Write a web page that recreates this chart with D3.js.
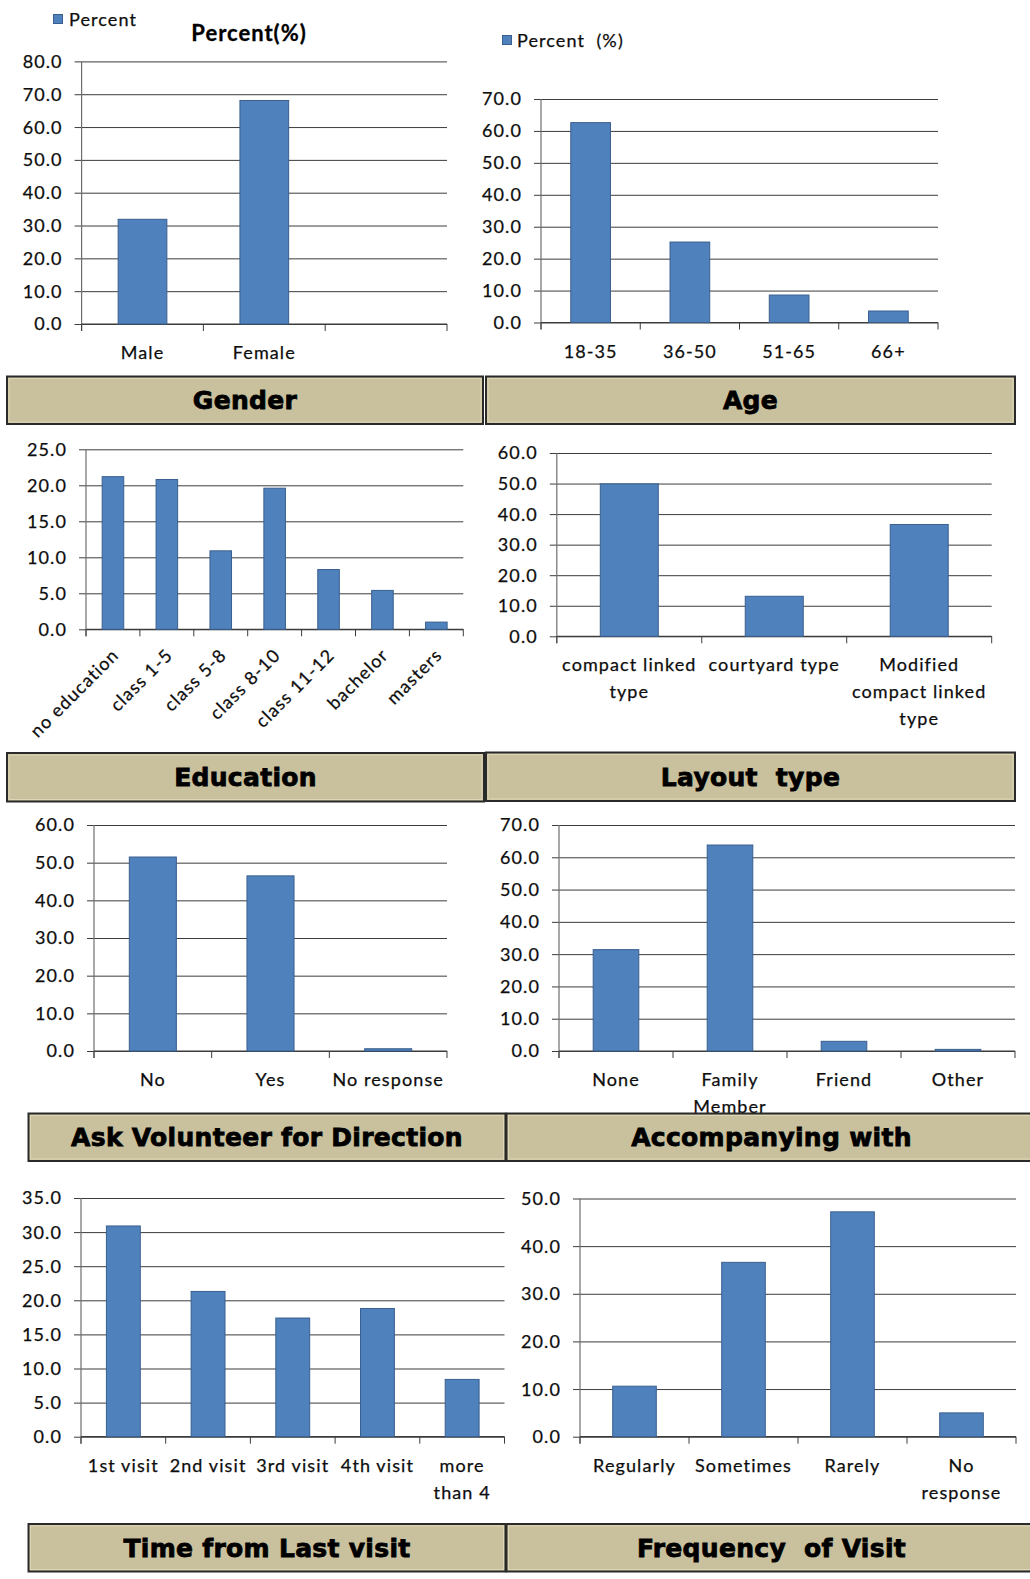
<!DOCTYPE html>
<html>
<head>
<meta charset="utf-8">
<script src="https://cdn.jsdelivr.net/npm/d3@7"></script>
<style>
  html, body { margin: 0; padding: 0; background: #fff; }
  svg { display: block; }
  .tick-label, .cat-label, .legend-text { font-family: Lato, "Open Sans", sans-serif; font-size: 18px; letter-spacing: 1.1px; fill: #0d0d0d; stroke: #0d0d0d; stroke-width: 0.25px; }
  .chart-title { font-family: Lato, "Open Sans", sans-serif; font-size: 22px; font-weight: bold; letter-spacing: 1px; fill: #000; stroke: #000; stroke-width: 0.3px; }
  .banner-text { font-family: "DejaVu Sans", sans-serif; font-size: 25px; font-weight: bold; letter-spacing: 0.3px; fill: #000; stroke: #000; stroke-width: 0.8px; }
</style>
</head>
<body>
<svg id="chart" width="1030" height="1579"></svg>
<script>
// ---- survey results (percent of respondents) ----
const genderCats = ["Male", "Female", ""];
const genderVals = [31.9, 68.1, null];

const ageCats = ["18-35", "36-50", "51-65", "66+"];
const ageVals = [62.6, 25.2, 8.6, 3.6];

const educationCats = ["no education", "class 1-5", "class 5-8", "class 8-10", "class 11-12", "bachelor", "masters"];
const educationVals = [21.2, 20.8, 10.9, 19.6, 8.3, 5.4, 1.0];

const layoutCats = [["compact linked", "type"], ["courtyard type"], ["Modified", "compact linked", "type"]];
const layoutVals = [49.9, 13.1, 36.6];

const volunteerCats = ["No", "Yes", "No response"];
const volunteerVals = [51.5, 46.5, 0.6];

const companyCats = ["None", ["Family", "Member"], "Friend", "Other"];
const companyVals = [31.4, 63.8, 3.0, 0.5];

const lastVisitCats = ["1st visit", "2nd visit", "3rd visit", "4th visit", ["more", "than 4"]];
const lastVisitVals = [30.9, 21.3, 17.4, 18.8, 8.4];

const frequencyCats = ["Regularly", "Sometimes", "Rarely", ["No", "response"]];
const frequencyVals = [10.6, 36.6, 47.2, 5.0];

// y-axis tick settings: [max, step]
const genderTicks = [80, 10];
const ageTicks = [70, 10];
const educationTicks = [25, 5];
const layoutTicks = [60, 10];
const volunteerTicks = [60, 10];
const companyTicks = [70, 10];
const lastVisitTicks = [35, 5];
const frequencyTicks = [50, 10];

const bannerTitles = ["Gender", "Age", "Education", "Layout  type", "Ask Volunteer for Direction", "Accompanying with", "Time from Last visit", "Frequency  of Visit"];

// ---- styling ----
const BAR_FILL = "#4F81BD";
const BAR_STROKE = "#3A5F8E";
const GRID = "#3c3c3c";
const BANNER_FILL = "#C9C19D";

const svg = d3.select("#chart");

// plot frames: left/right of the category axis, top (max) and bottom (zero) of the value axis
const panels = [
  { cats: genderCats,    vals: genderVals,    ticks: genderTicks,    x0: 81.6, x1: 447,    yT: 61.4,   yB: 324 },
  { cats: ageCats,       vals: ageVals,       ticks: ageTicks,       x0: 541,  x1: 938,    yT: 99,     yB: 322.5 },
  { cats: educationCats, vals: educationVals, ticks: educationTicks, x0: 86,   x1: 463.3,  yT: 449.3,  yB: 629.3, rotate: true },
  { cats: layoutCats,    vals: layoutVals,    ticks: layoutTicks,    x0: 556.8, x1: 991.7, yT: 453,    yB: 636.3 },
  { cats: volunteerCats, vals: volunteerVals, ticks: volunteerTicks, x0: 94,   x1: 447,    yT: 825,    yB: 1051 },
  { cats: companyCats,   vals: companyVals,   ticks: companyTicks,   x0: 559,  x1: 1015,   yT: 825,    yB: 1051 },
  { cats: lastVisitCats, vals: lastVisitVals, ticks: lastVisitTicks, x0: 81,   x1: 504.5,  yT: 1198,   yB: 1436.7 },
  { cats: frequencyCats, vals: frequencyVals, ticks: frequencyTicks, x0: 580,  x1: 1016,   yT: 1198.5, yB: 1436.7 }
];

const banners = [
  { x: 7,     y: 376.5,  w: 476, h: 47.5 },
  { x: 486,   y: 376.5,  w: 529, h: 47.5 },
  { x: 7,     y: 753,    w: 477, h: 48.5 },
  { x: 486,   y: 752.5,  w: 529, h: 48.5 },
  { x: 28.5,  y: 1113.5, w: 477, h: 47.5 },
  { x: 506.5, y: 1113.5, w: 530, h: 47.5 },
  { x: 28.5,  y: 1524,   w: 477, h: 47.5 },
  { x: 506.5, y: 1524,   w: 530, h: 47.5 }
];

function drawPanel(p) {
  const g = svg.append("g");
  const keys = p.cats.map((c, i) => i);
  const x = d3.scaleBand().domain(keys).range([p.x0, p.x1]).paddingInner(0).paddingOuter(0);
  const [max, step] = p.ticks;
  const y = d3.scaleLinear().domain([0, max]).range([p.yB, p.yT]);
  const tickVals = d3.range(0, max + step / 2, step);

  // horizontal gridlines, starting with a short stub left of the axis
  const yAxis = d3.axisLeft(y).tickValues(tickVals).tickSize(0).tickFormat("");
  const gy = g.append("g").attr("transform", `translate(${p.x1},0)`).call(yAxis);
  gy.select(".domain").remove();
  gy.selectAll(".tick line")
    .attr("x1", 0).attr("x2", -(p.x1 - p.x0) - 7)
    .attr("stroke", GRID).attr("stroke-width", 1);

  // value labels
  g.append("g").selectAll("text").data(tickVals).join("text")
    .attr("class", "tick-label")
    .attr("x", p.x0 - 19)
    .attr("y", d => y(d))
    .attr("dy", "0.36em")
    .attr("text-anchor", "end")
    .text(d3.format(".1f"));

  // vertical axis line
  g.append("line").attr("x1", p.x0).attr("x2", p.x0).attr("y1", p.yT).attr("y2", p.yB + 7)
    .attr("stroke", "#6e6e6e").attr("stroke-width", 1.2);

  // category axis with boundary ticks
  g.append("line").attr("x1", p.x0).attr("x2", p.x1).attr("y1", p.yB).attr("y2", p.yB)
    .attr("stroke", GRID).attr("stroke-width", 1.2);
  const bounds = keys.map(k => x(k)).concat([p.x1]);
  g.append("g").selectAll("line").data(bounds).join("line")
    .attr("x1", d => d).attr("x2", d => d).attr("y1", p.yB).attr("y2", p.yB + 7)
    .attr("stroke", GRID).attr("stroke-width", 1);

  // bars
  const bw = x.bandwidth() * 0.4;
  g.append("g").selectAll("rect").data(keys.filter(k => p.vals[k] != null)).join("rect")
    .attr("x", k => x(k) + (x.bandwidth() - bw) / 2)
    .attr("width", bw)
    .attr("y", k => y(p.vals[k]))
    .attr("height", k => y(0) - y(p.vals[k]))
    .attr("fill", BAR_FILL)
    .attr("stroke", BAR_STROKE)
    .attr("stroke-width", 1);

  // category labels
  const lg = g.append("g");
  keys.forEach(k => {
    const cx = x(k) + x.bandwidth() / 2;
    const label = p.cats[k];
    if (p.rotate) {
      lg.append("text").attr("class", "cat-label")
        .attr("text-anchor", "end")
        .attr("transform", `translate(${cx + 7},${p.yB + 27}) rotate(-45)`)
        .text(label);
    } else {
      const lines = Array.isArray(label) ? label : [label];
      const t = lg.append("text").attr("class", "cat-label").attr("text-anchor", "middle");
      lines.forEach((ln, i) => {
        t.append("tspan").attr("x", cx).attr("y", p.yB + 35 + i * 27).text(ln);
      });
    }
  });
}

panels.forEach(drawPanel);

// legends and title of the first row
const legend1 = svg.append("g");
legend1.append("rect").attr("x", 53.5).attr("y", 14.5).attr("width", 9).attr("height", 9)
  .attr("fill", BAR_FILL).attr("stroke", BAR_STROKE);
legend1.append("text").attr("class", "legend-text").attr("x", 69).attr("y", 25.5).text("Percent");

const legend2 = svg.append("g");
legend2.append("rect").attr("x", 502.5).attr("y", 35.5).attr("width", 9).attr("height", 9)
  .attr("fill", BAR_FILL).attr("stroke", BAR_STROKE);
legend2.append("text").attr("class", "legend-text").attr("x", 517).attr("y", 47)
  .style("white-space", "pre").text("Percent  (%)");

svg.append("text").attr("class", "chart-title").attr("x", 249).attr("y", 40.5)
  .attr("text-anchor", "middle").text("Percent(%)");

// section banners
banners.forEach((b, i) => {
  const g = svg.append("g");
  g.append("rect").attr("x", b.x).attr("y", b.y).attr("width", b.w).attr("height", b.h)
    .attr("fill", BANNER_FILL).attr("stroke", "#2a2a2a").attr("stroke-width", 2);
  g.append("rect").attr("x", b.x + 2).attr("y", b.y + 2).attr("width", b.w - 4).attr("height", b.h - 4)
    .attr("fill", "none").attr("stroke", "#ddd6b8").attr("stroke-width", 1);
  g.append("text").attr("class", "banner-text")
    .attr("x", b.x + b.w / 2).attr("y", b.y + b.h / 2).attr("dy", "0.36em")
    .attr("text-anchor", "middle").style("white-space", "pre")
    .text(bannerTitles[i]);
});
</script>
</body>
</html>
